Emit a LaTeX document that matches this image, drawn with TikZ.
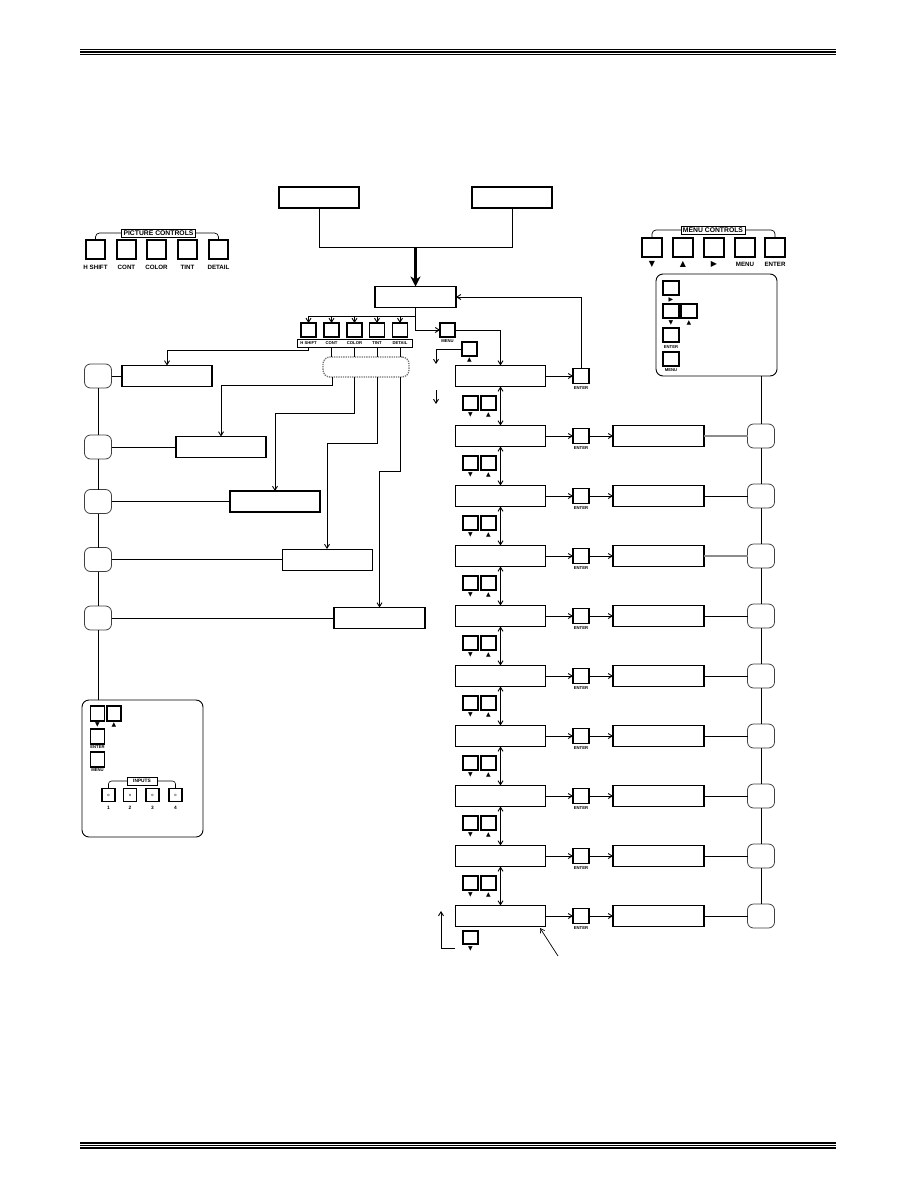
\documentclass[tikz,border=0pt]{standalone}
\usepackage{fontspec}
\setmainfont{Liberation Sans}
\newfontfamily\symf{DejaVu Sans}
\usetikzlibrary{arrows.meta,calc}
\begin{document}
\begin{tikzpicture}[x=1pt,y=-1pt,
  >={Straight Barb[length=4pt,width=5pt]},
  line width=0.9pt,
  every node/.style={inner sep=0pt, outer sep=0pt},
  mbox/.style={draw, line width=1.7pt, minimum width=90pt, minimum height=21pt},
  rsq/.style={draw=black!75, line width=0.8pt, rounded corners=6pt, minimum width=27pt, minimum height=24pt},
  btn/.style={draw, line width=1.5pt, minimum width=15pt, minimum height=14pt},
  bigbtn/.style={draw, line width=1.4pt, minimum width=19pt, minimum height=19pt},
  tinylbl/.style={font=\bfseries\fontsize{4.2}{4.2}\selectfont},
  smalllbl/.style={font=\bfseries\fontsize{6.2}{6.2}\selectfont},
  titlelbl/.style={draw, line width=0.8pt, font=\bfseries\fontsize{6.8}{6.8}\selectfont, inner xsep=2pt, inner ysep=1.5pt},
  tri/.style={font=\symf\fontsize{8}{8}\selectfont},
  stri/.style={font=\symf\fontsize{6}{6}\selectfont},
]
\fill[white] (0,0) rectangle (918,1188);
\useasboundingbox (0,0) rectangle (918,1188);

% horizontal rules
\draw[line width=1.3pt] (80,49.5) -- (836,49.5);
\draw[line width=1.3pt] (80,52) -- (836,52);
\draw[line width=1.3pt] (80,54.5) -- (836,54.5);
\draw[line width=1.3pt] (80,1143) -- (836,1143);
\draw[line width=1.3pt] (80,1145.5) -- (836,1145.5);
\draw[line width=1.3pt] (80,1148) -- (836,1148);

% top boxes
\node[mbox, minimum width=80pt] (ta) at (319,197.5) {};
\node[mbox, minimum width=80pt] (tb) at (512,197.5) {};
\node[mbox, minimum width=81pt] (tc) at (415.5,297) {};
\coordinate (j) at (415.5,247);
\draw (ta.south) -- (ta.south |- j) -- (tb.south |- j) -- (tb.south);
\draw[line width=2.6pt, -{Stealth[length=10pt,width=10pt,inset=3pt]}] (j) -- (tc.north);

% picture controls legend
\foreach \i/\x/\t in {1/95.5/H SHIFT,2/126.5/CONT,3/156.5/COLOR,4/187.5/TINT,5/218.5/DETAIL}{
  \node[bigbtn] (pcl\i) at (\x,249.5) {};
  \node[smalllbl] (pcll\i) at (\x,267) {\t};
}
\node[titlelbl] (pct) at (158.5,233) {PICTURE CONTROLS};
\draw[line width=0.7pt, rounded corners=4pt] (pct.west) -| (pcl1.north);
\draw[line width=0.7pt, rounded corners=4pt] (pct.east) -| (pcl5.north);

% menu controls legend
\foreach \i/\x in {1/652,2/683,3/714,4/745,5/775}{
  \node[bigbtn, minimum width=20pt] (mcl\i) at (\x,247.5) {};
}
\node[tri] (mct1) at (652,264) {▼};
\node[tri] (mct2) at (683,264) {▲};
\node[tri] (mct3) at (714,264) {▶};
\node[smalllbl] (mct4) at (745,264) {MENU};
\node[smalllbl] (mct5) at (775,264) {ENTER};
\node[titlelbl] (mct) at (713,230) {MENU CONTROLS};
\draw[line width=0.7pt, rounded corners=4pt] (mct.west) -| (mcl1.north);
\draw[line width=0.7pt, rounded corners=4pt] (mct.east) -| (mcl5.north);

% menu legend box
\node[draw, rounded corners=7pt, line width=0.9pt, minimum width=121pt, minimum height=102pt] (mleg) at (716.5,325) {};
\node[btn, minimum width=16pt] (ml1) at (671,288) {};
\node[stri] (ml1t) at (671,299.5) {▶};
\node[btn, minimum width=16pt] (ml2) at (671,311) {};
\node[btn, minimum width=16pt] (ml3) at (689,311) {};
\node[stri] (ml2t) at (671,322.5) {▼};
\node[stri] (ml3t) at (689,322.5) {▲};
\node[btn, minimum width=16pt] (ml4) at (671,335) {};
\node[tinylbl] (ml4t) at (671,347) {ENTER};
\node[btn, minimum width=16pt] (ml5) at (671,359) {};
\node[tinylbl] (ml5t) at (671,370.5) {MENU};

% main column
\foreach \k in {0,...,9}{
  \pgfmathsetmacro{\yy}{376+60*\k}
  \node[mbox] (mb\k) at (500.5,\yy) {};
  \node[btn, minimum width=16pt, minimum height=15pt] (e\k) at (581,\yy) {};
  \node[tinylbl] (el\k) at (581,\yy+12.5) {ENTER};
  \draw[->] (mb\k.east) -- (e\k.west);
}
\foreach \k in {1,...,9}{
  \pgfmathsetmacro{\yy}{376+60*\k}
  \node[mbox, minimum width=91pt] (sb\k) at (658.5,\yy) {};
  \node[rsq] (rc\k) at (761,\yy) {};
  \draw[->] (e\k.east) -- (sb\k.west);
}
\foreach \k in {1,...,9}{
  \ifnum\k=1 \draw[black!45, line width=1.2pt] (sb\k.east) -- (rc\k.west);
  \else\ifnum\k=3 \draw[black!45, line width=1.2pt] (sb\k.east) -- (rc\k.west);
  \else \draw (sb\k.east) -- (rc\k.west); \fi\fi
}
\foreach \k [evaluate=\k as \n using int(\k+1)] in {0,...,8}{
  \pgfmathsetmacro{\yy}{376+60*\k}
  \draw[<->] (mb\k.south) -- (mb\n.north);
  \node[btn] (dn\k) at (470.5,\yy+27) {};
  \node[btn] (up\k) at (488.5,\yy+27) {};
  \node[stri] (dnt\k) at (470.5,\yy+38.5) {▼};
  \node[stri] (upt\k) at (488.5,\yy+38.5) {▲};
}
\draw (mleg.south -| rc1) -- (rc1.north);
\foreach \k [evaluate=\k as \n using int(\k+1)] in {1,...,8}{
  \draw (rc\k.south) -- (rc\n.north);
}
% feedback enter -> top box
\draw[->] (e0.north) |- (tc.east);

% MENU button
\node[btn] (menub) at (447.5,330) {};
\node[tinylbl] (menut) at (447.5,341.5) {MENU};
\draw[->] (tc.south) |- (menub.west);
\draw[->] (menub.east) -| (mb0.north);
% up button near top
\node[btn] (upb) at (469.5,349) {};
\node[stri] (upbt) at (469.5,360) {▲};
\coordinate (ua) at (436,364);
\draw[->] (upb.west) -| (ua);
\coordinate (ub1) at (436,390);
\coordinate (ub2) at (436,404);
\draw[->] (ub1) -- (ub2);

% bottom
\node[btn, minimum height=13pt] (dnb) at (470.5,937.5) {};
\node[stri] (dnbt) at (470.5,948.5) {▼};
\coordinate (ba1) at (455,948);
\coordinate (ba2) at (441,948);
\coordinate (ba3) at (441,911);
\draw[->] (ba1) -- (ba2) -- (ba3);
\coordinate (pa) at (558,956);
\coordinate (pb) at (540,928);
\draw[->, line width=0.7pt] (pa) -- (pb);

% picture controls middle
\foreach \i/\x in {1/308.5,2/331.5,3/354.5,4/377,5/400}{
  \node[btn] (pc\i) at (\x,330) {};
}
\node[draw, line width=0.8pt, minimum width=115pt, minimum height=8pt] (pcbar) at (354.5,343) {};
\foreach \i/\t in {1/H SHIFT,2/CONT,3/COLOR,4/TINT,5/DETAIL}{
  \node[tinylbl] (pcbt\i) at (pc\i |- pcbar) {\t};
}
\coordinate (br) at (415.5,316);
\draw (pc1.north |- br) -- (br);
\foreach \i in {1,...,5}{ \draw[->] (pc\i.north |- br) -- (pc\i.north); }
\node[draw=black!55, densely dotted, line width=1.3pt, rounded corners=7pt, minimum width=86pt, minimum height=20pt] (grp) at (366,367) {};
\foreach \i in {2,...,5}{ \draw (pc\i |- pcbar.south) -- (pc\i |- grp.north); }

% left boxes
\node[mbox] (pb1) at (167,376) {};
\node[mbox] (pb2) at (221,447) {};
\node[mbox] (pb3) at (275,501.5) {};
\node[mbox, line width=1pt] (pb4) at (327,559.5) {};
\node[mbox, minimum width=91pt] (pb5) at (379.5,618) {};
\coordinate (h1) at (167,350);
\draw[->] (pc1 |- pcbar.south) -- (pc1 |- h1) -- (h1) -- (pb1.north);
\coordinate (g2) at (332,385);
\coordinate (g3) at (354.5,413);
\coordinate (g4) at (377,443);
\coordinate (g5) at (400,471);
\draw[->] (g2 |- grp.south) -- (g2) -| (pb2.north);
\draw[->] (g3 |- grp.south) -- (g3) -| (pb3.north);
\draw[->] (g4 |- grp.south) -- (g4) -| (pb4.north);
\draw[->] (g5 |- grp.south) -- (g5) -| (pb5.north);

% left circles
\foreach \i in {1,...,5}{
  \node[rsq] (lc\i) at (98,0 |- pb\i) {};
  \draw (lc\i.east) -- (pb\i.west);
}
\foreach \i [evaluate=\i as \n using int(\i+1)] in {1,...,4}{
  \draw (lc\i.south) -- (lc\n.north);
}

% inputs box
\node[draw, rounded corners=7pt, line width=0.9pt, minimum width=121pt, minimum height=137pt] (inbox) at (142.5,768.5) {};
\draw (lc5.south) -- (lc5.south |- inbox.north);
\node[btn, minimum width=14pt, minimum height=15pt] (ib1) at (97.5,713.5) {};
\node[btn, minimum width=14pt, minimum height=15pt] (ib2) at (114,713.5) {};
\node[stri] (ib1t) at (97.5,724.5) {▼};
\node[stri] (ib2t) at (114,724.5) {▲};
\node[btn, minimum width=14pt, minimum height=15pt] (ib3) at (97.5,736.5) {};
\node[tinylbl] (ib3t) at (97.5,747) {ENTER};
\node[btn, minimum width=14pt, minimum height=15pt] (ib4) at (97.5,759.5) {};
\node[tinylbl] (ib4t) at (97.5,770.5) {MENU};
\node[draw, line width=0.7pt, font=\bfseries\fontsize{4.8}{4.8}\selectfont, minimum width=30pt, minimum height=8pt] (inpt) at (142,781) {INPUTS};
\foreach \i/\x in {1/108.5,2/130,3/152.5,4/175.5}{
  \node[btn, minimum width=13pt, minimum height=13pt, line width=1.2pt, font=\fontsize{4}{4}\selectfont] (in\i) at (\x,795) {o};
  \node[tinylbl, font=\bfseries\fontsize{4.8}{4.8}\selectfont] (inl\i) at (\x,808) {\i};
}
\draw[line width=0.6pt, rounded corners=3pt] (inpt.west) -| (in1.north);
\draw[line width=0.6pt, rounded corners=3pt] (inpt.east) -| (in4.north);
\end{tikzpicture}
\end{document}
